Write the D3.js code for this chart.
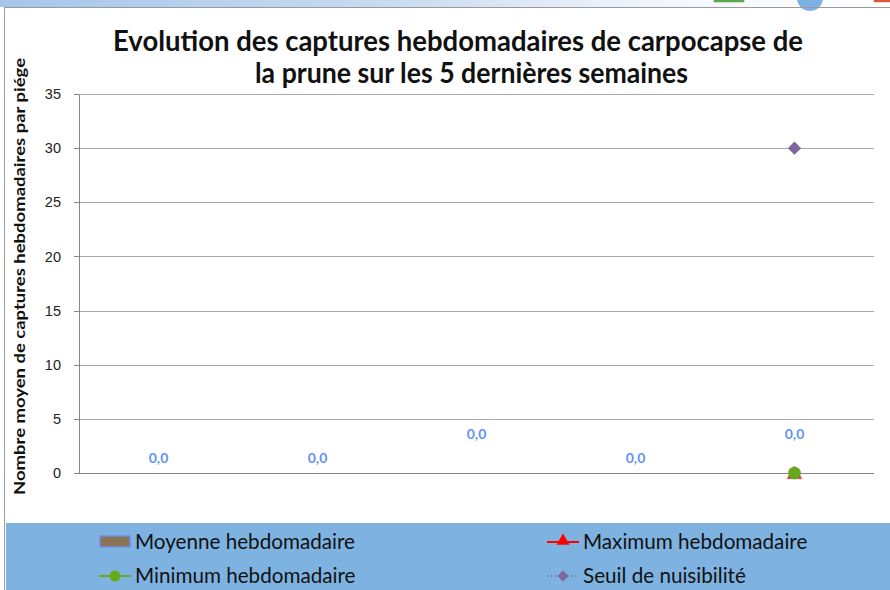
<!DOCTYPE html>
<html>
<head>
<meta charset="utf-8">
<script src="https://cdn.jsdelivr.net/npm/d3@7"></script>
<style>
  html, body { margin: 0; padding: 0; background: #ffffff; }
  svg { display: block; }
</style>
</head>
<body>
<svg id="chart" width="890" height="590"></svg>
<script>
// Captures hebdomadaires de carpocapse de la prune, 5 dernières semaines
const weeks = ["Semaine 1", "Semaine 2", "Semaine 3", "Semaine 4", "Semaine 5"];
const moyenne = [0, 0, 0, 0, 0];
const maximum = [null, null, null, null, 0];
const minimum = [null, null, null, null, 0];
const seuil = [null, null, null, null, 30];
const yTicks = [0, 5, 10, 15, 20, 25, 30, 35];

const titleLines = [
  "Evolution des captures hebdomadaires de carpocapse de",
  "la prune sur les 5 dernières semaines"
];
const yTitle = "Nombre moyen de captures hebdomadaires par piége";
const legendItems = [
  { key: "moyenne", label: "Moyenne hebdomadaire" },
  { key: "maximum", label: "Maximum hebdomadaire" },
  { key: "minimum", label: "Minimum hebdomadaire" },
  { key: "seuil", label: "Seuil de nuisibilité" }
];

const svg = d3.select("#chart");
const W = 890, H = 590;
const plot = { left: 79, right: 874, top: 94, bottom: 473 };
const FONT = "Lato, 'Open Sans', sans-serif";

// scale text so it spans a given width
function fitWidth(sel, target) {
  const len = sel.node().getComputedTextLength();
  const fs = parseFloat(sel.attr("font-size"));
  sel.attr("font-size", (fs * target / len).toFixed(2));
}

// top window strip
const defs = svg.append("defs");
const grad = defs.append("linearGradient").attr("id", "strip")
  .attr("x1", "0%").attr("x2", "100%").attr("y1", "0%").attr("y2", "0%");
grad.append("stop").attr("offset", "0%").attr("stop-color", "#a6c6ea");
grad.append("stop").attr("offset", "45%").attr("stop-color", "#c9dcf1");
grad.append("stop").attr("offset", "75%").attr("stop-color", "#f3f7fc");
grad.append("stop").attr("offset", "100%").attr("stop-color", "#ffffff");
svg.append("rect").attr("x", 0).attr("y", 0).attr("width", W).attr("height", 7)
  .attr("fill", "url(#strip)");
svg.append("rect").attr("x", 714).attr("y", -4).attr("width", 30).attr("height", 6)
  .attr("fill", "#4fae3c").attr("stroke", "#8a8a8a").attr("stroke-width", 0.6);
svg.append("circle").attr("cx", 810).attr("cy", -2).attr("r", 13).attr("fill", "#7fb2e4");
svg.append("rect").attr("x", 874).attr("y", -4).attr("width", 20).attr("height", 6)
  .attr("fill", "#e8502a").attr("stroke", "#8a8a8a").attr("stroke-width", 0.6);

// chart frame
svg.append("path")
  .attr("d", `M4.5,${H} V7.5 H${W}`)
  .attr("fill", "none").attr("stroke", "#9a9a9a").attr("stroke-width", 1);

// legend band
svg.append("rect").attr("x", 6).attr("y", 523).attr("width", W - 6).attr("height", H - 523)
  .attr("fill", "#7eb3e1");

// scales
const x = d3.scaleBand().domain(weeks).range([plot.left, plot.right]);
const y = d3.scaleLinear().domain([0, 35]).range([plot.bottom, plot.top]);

// gridlines
svg.append("g")
  .attr("transform", `translate(${plot.left},0)`)
  .call(d3.axisLeft(y).tickValues(yTicks).tickSize(-(plot.right - plot.left)).tickFormat(""))
  .call(g => g.select(".domain").remove())
  .call(g => g.selectAll("line").attr("stroke", "#a8a8a8").attr("stroke-width", 1)
    .attr("shape-rendering", "crispEdges"));

// y axis
svg.append("g")
  .attr("transform", `translate(${plot.left},0)`)
  .call(d3.axisLeft(y).tickValues(yTicks).tickSize(5).tickPadding(13).tickSizeOuter(0))
  .call(g => g.select(".domain").attr("stroke", "#868686").attr("shape-rendering", "crispEdges"))
  .call(g => g.selectAll(".tick line").attr("stroke", "#868686").attr("shape-rendering", "crispEdges"))
  .call(g => g.selectAll("text").attr("font-family", "'Liberation Sans', Arial, sans-serif")
    .attr("font-size", 14.5).attr("fill", "#222"));

// baseline
svg.append("line")
  .attr("x1", plot.left).attr("x2", plot.right)
  .attr("y1", y(0)).attr("y2", y(0))
  .attr("stroke", "#868686").attr("shape-rendering", "crispEdges");

// title (two lines, condensed to their widths)
const title = svg.append("g").attr("font-family", FONT)
  .attr("font-weight", "bold").attr("fill", "#111").attr("font-size", 29);
title.append("text").attr("x", 113).attr("y", 51)
  .attr("textLength", 690).attr("lengthAdjust", "spacingAndGlyphs").text(titleLines[0]);
title.append("text").attr("x", 255).attr("y", 83)
  .attr("textLength", 433).attr("lengthAdjust", "spacingAndGlyphs").text(titleLines[1]);

// y axis title
svg.append("text")
  .attr("transform", "translate(25,495) rotate(-90)")
  .attr("font-family", FONT)
  .attr("font-weight", "bold").attr("font-size", 16).attr("fill", "#111")
  .attr("textLength", 437).attr("lengthAdjust", "spacingAndGlyphs")
  .text(yTitle);

// bars: weekly mean
const cx = d => x(d) + x.bandwidth() / 2;
const barW = x.bandwidth() * 0.45;
svg.append("g").selectAll("rect").data(weeks).join("rect")
  .attr("x", d => cx(d) - barW / 2)
  .attr("y", (d, i) => y(moyenne[i]))
  .attr("width", barW)
  .attr("height", (d, i) => y(0) - y(moyenne[i]))
  .attr("fill", "#8b7355").attr("stroke", "#6d8fe8");

// value labels of the mean, staggered where they would collide with markers
const raised = new Set([2, 4]);
svg.append("g").selectAll("text").data(weeks).join("text")
  .attr("x", cx)
  .attr("y", (d, i) => y(moyenne[i]) - (raised.has(i) ? 34 : 10))
  .attr("text-anchor", "middle")
  .attr("font-family", FONT)
  .attr("font-weight", "bold").attr("font-size", 14).attr("fill", "#5f93f7")
  .text((d, i) => d3.format(".1f")(moyenne[i]).replace(".", ","));

// series lines and markers
const lineGen = vals => d3.line()
  .defined(d => d[1] != null)
  .x(d => cx(d[0])).y(d => y(d[1]))(weeks.map((w, i) => [w, vals[i]]));

const triangle = d3.symbol().type(d3.symbolTriangle).size(95);
const legendTriangle = d3.symbol().type(d3.symbolTriangle).size(75);
const diamond = d3.symbol().type(d3.symbolSquare).size(88);
const legendDiamond = d3.symbol().type(d3.symbolSquare).size(60);

svg.append("path").attr("d", lineGen(maximum)).attr("fill", "none").attr("stroke", "#ff0000").attr("stroke-width", 2);
svg.append("g").selectAll("path").data(weeks.filter((w, i) => maximum[i] != null)).join("path")
  .attr("transform", d => `translate(${cx(d)},${y(maximum[weeks.indexOf(d)]) + 1.5})`)
  .attr("d", triangle).attr("fill", "#d9363a").attr("stroke", "#c0504d").attr("stroke-width", 0.5);

svg.append("path").attr("d", lineGen(minimum)).attr("fill", "none").attr("stroke", "#6aab1f").attr("stroke-width", 2);
svg.append("g").selectAll("circle").data(weeks.filter((w, i) => minimum[i] != null)).join("circle")
  .attr("cx", cx).attr("cy", d => y(minimum[weeks.indexOf(d)]))
  .attr("r", 6.3).attr("fill", "#67a91c");

svg.append("path").attr("d", lineGen(seuil)).attr("fill", "none").attr("stroke", "#8064a2")
  .attr("stroke-width", 1.5).attr("stroke-dasharray", "1.5,3");
svg.append("g").selectAll("path").data(weeks.filter((w, i) => seuil[i] != null)).join("path")
  .attr("transform", d => `translate(${cx(d)},${y(seuil[weeks.indexOf(d)])}) rotate(45)`)
  .attr("d", diamond).attr("fill", "#8064a2");

// legend
const legendPos = {
  moyenne: [99, 542], maximum: [547, 542],
  minimum: [99, 576], seuil: [547, 576]
};
const lg = svg.append("g");
legendItems.forEach(item => {
  const [lx, ly] = legendPos[item.key];
  const g = lg.append("g").attr("transform", `translate(${lx},${ly})`);
  if (item.key === "moyenne") {
    g.append("rect").attr("x", 1).attr("y", -6).attr("width", 30).attr("height", 11)
      .attr("fill", "#8b7355").attr("stroke", "#6d8fe8").attr("stroke-width", 1.5);
  } else if (item.key === "maximum") {
    g.append("line").attr("x1", 0).attr("x2", 32).attr("y1", 0).attr("y2", 0)
      .attr("stroke", "#ff0000").attr("stroke-width", 2);
    g.append("path").attr("transform", "translate(16,-1)").attr("d", legendTriangle).attr("fill", "#ff0000");
  } else if (item.key === "minimum") {
    g.append("line").attr("x1", 0).attr("x2", 32).attr("y1", 0).attr("y2", 0)
      .attr("stroke", "#6aab1f").attr("stroke-width", 2);
    g.append("circle").attr("cx", 16).attr("cy", 0).attr("r", 5.5).attr("fill", "#67a91c");
  } else {
    g.append("line").attr("x1", 0).attr("x2", 30).attr("y1", 0).attr("y2", 0)
      .attr("stroke", "#8064a2").attr("stroke-width", 1.3).attr("stroke-dasharray", "1.3,2.7");
    g.append("path").attr("transform", "translate(16,0) rotate(45)").attr("d", legendDiamond).attr("fill", "#8064a2");
  }
  const txt = g.append("text").attr("x", 36).attr("y", 0).attr("dy", "0.35em")
    .attr("font-family", FONT).attr("font-size", 18)
    .attr("fill", "#111").text(item.label);
  if (item.key === "moyenne") fitWidth(txt, 220);
});
// same size for every legend entry
const legendFs = lg.selectAll("text").filter((d, i) => i === 0).attr("font-size");
lg.selectAll("text").attr("font-size", legendFs);
</script>
</body>
</html>
